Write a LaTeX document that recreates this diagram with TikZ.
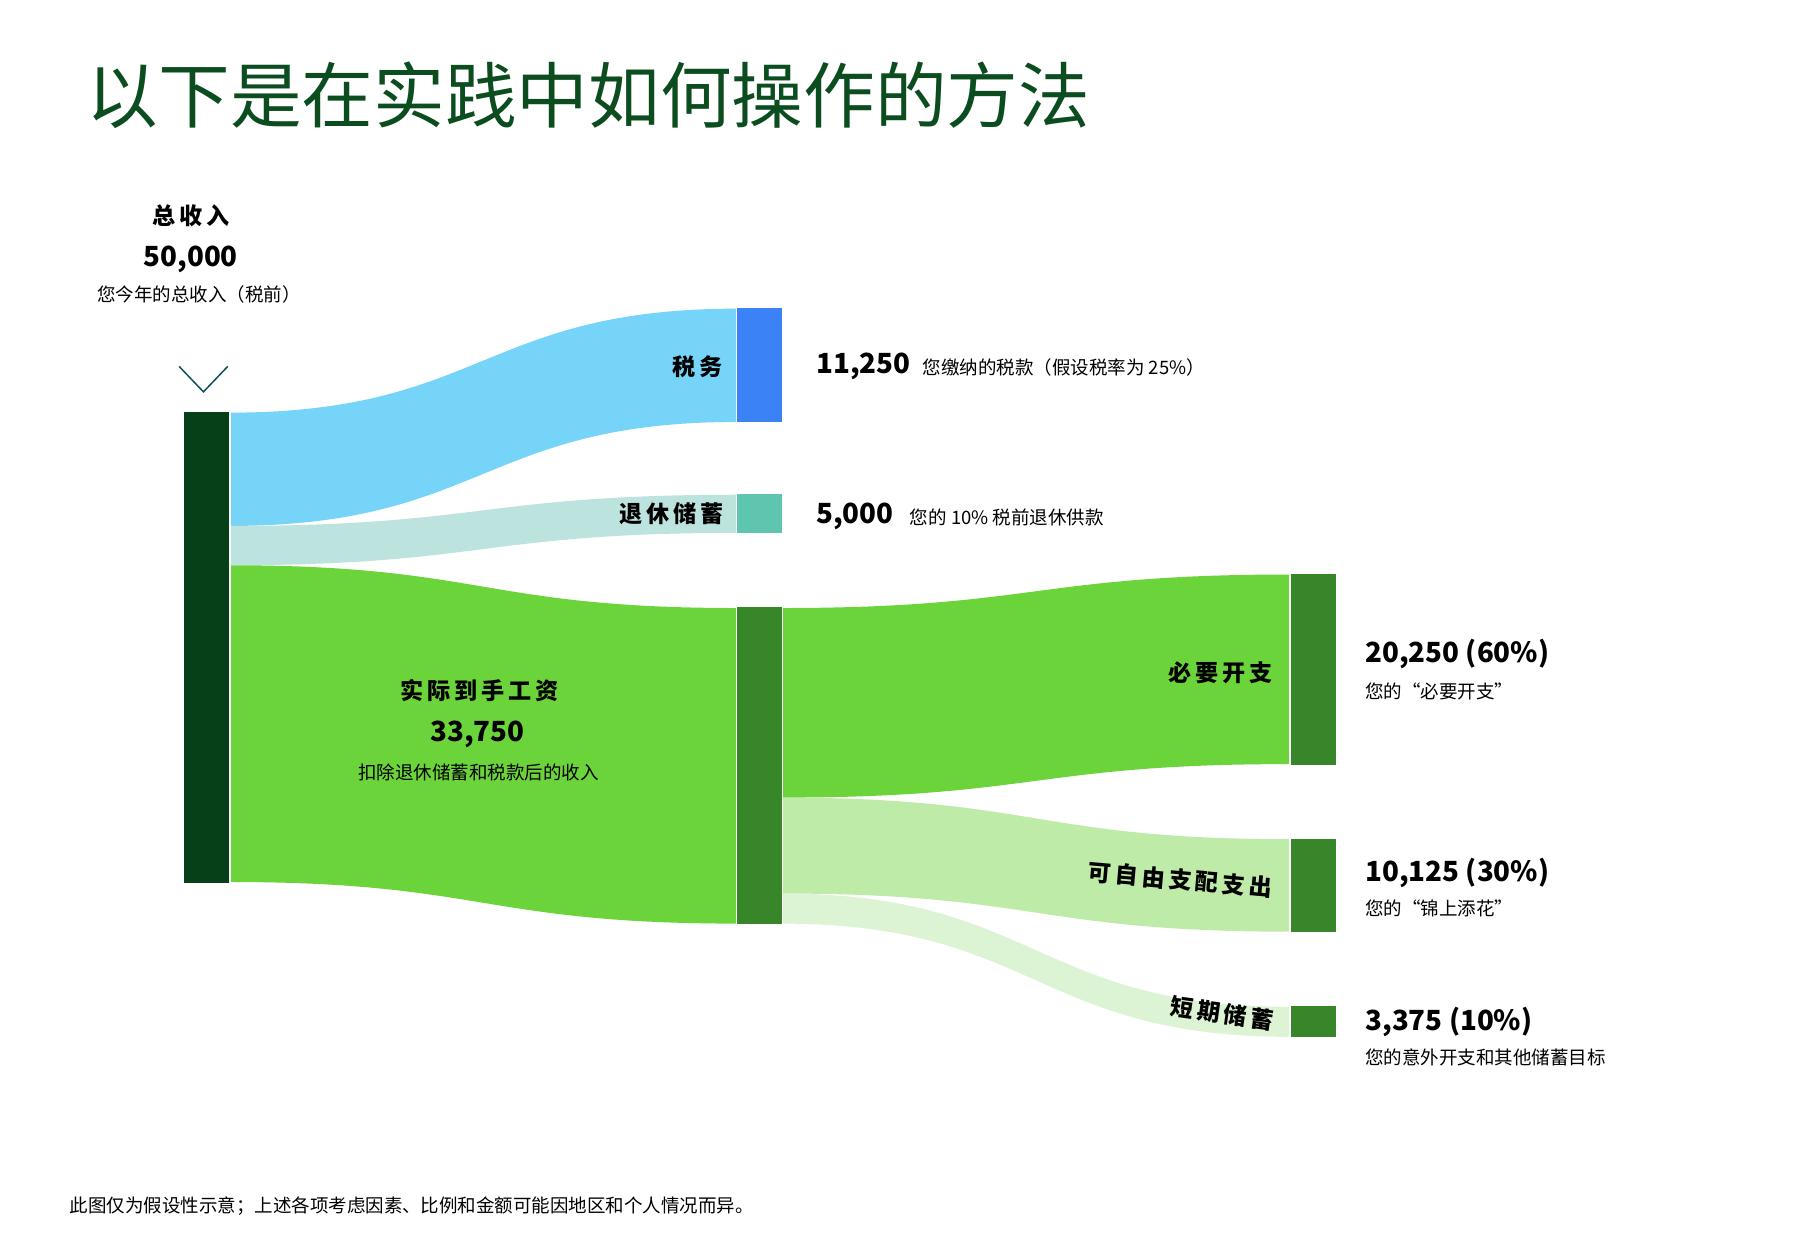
\documentclass[tikz,border=0pt]{standalone}
\usepackage{fontspec}
\setmainfont{Noto Sans CJK SC}
\begin{document}
\begin{tikzpicture}[x=1pt,y=-1pt,
  bar/.style={draw=white,line width=1pt},
  lab/.style={font=\fontsize{20}{24}\selectfont\bfseries,inner sep=0pt},
  num/.style={font=\fontsize{24}{28}\selectfont\bfseries,inner sep=0pt},
  sm/.style={font=\fontsize{16}{19}\selectfont,inner sep=0pt}]
\definecolor{dk}{HTML}{064019}\definecolor{mid}{HTML}{37862A}
\definecolor{lg}{HTML}{6AD43A}\definecolor{tt}{HTML}{0B4D1F}
\useasboundingbox (0,0) rectangle (1552,1068);
\fill[white] (0,0) rectangle (1552,1068);
% flows
\fill[color={rgb,255:red,119;green,212;blue,249}] (198,357) .. controls (418,357) and (418,267) .. (638,267) -- (638,365) .. controls (418,365) and (418,455) .. (198,455) -- cycle;
\fill[color={rgb,255:red,188;green,227;blue,222}] (198,455) .. controls (418,455) and (418,428) .. (638,428) -- (638,461) .. controls (418,461) and (418,489) .. (198,489) -- cycle;
\fill[lg] (198,489) .. controls (418,489) and (418,526) .. (638,526) -- (638,799) .. controls (418,799) and (418,763) .. (198,763) -- cycle;
\fill[lg] (676,526) .. controls (896,526) and (896,497) .. (1117,497) -- (1117,661) .. controls (896,661) and (896,690) .. (676,690) -- cycle;
\fill[color={rgb,255:red,191;green,235;blue,168}] (676,690) .. controls (896,690) and (896,726) .. (1117,726) -- (1117,806) .. controls (896,806) and (896,773) .. (676,773) -- cycle;
\fill[color={rgb,255:red,220;green,244;blue,211}] (676,773) .. controls (896,773) and (896,871) .. (1117,871) -- (1117,897) .. controls (896,897) and (896,799) .. (676,799) -- cycle;
% bars
\node[bar,fill=dk,minimum width=40pt,minimum height=408pt,inner sep=0pt] (src) at (179,560) {};
\node[bar,fill={rgb,255:red,59;green,130;blue,246},minimum width=40pt,minimum height=100pt,inner sep=0pt] (tax) at (657,316) {};
\node[bar,fill={rgb,255:red,94;green,198;blue,174},minimum width=40pt,minimum height=35pt,inner sep=0pt] (ret) at (657,444.5) {};
\node[bar,fill=mid,minimum width=40pt,minimum height=275pt,inner sep=0pt] (net) at (657,662.5) {};
\node[bar,fill=mid,minimum width=40pt,minimum height=166pt,inner sep=0pt] (ess) at (1136,579) {};
\node[bar,fill=mid,minimum width=40pt,minimum height=82pt,inner sep=0pt] (dis) at (1136,766) {};
\node[bar,fill=mid,minimum width=40pt,minimum height=28pt,inner sep=0pt] (sht) at (1136,884) {};
% title
\node[anchor=west,text=tt,inner sep=0pt,font=\fontsize{62}{70}\selectfont] (title) at (75,82) {以下是在实践中如何操作的方法};
% source labels
\node[lab] (l1) at (165,187) {总\,收\,入};
\node[num] (n1) at (165,224) {50,000};
\node[sm] (s1) at (172,255) {您今年的总收入（税前）};
\coordinate (cv) at (176,339);
\draw[color={rgb,255:red,16;green,80;blue,90},line width=1.3pt] (155,317) -- (cv) -- (197,317);
% tax
\node[lab,anchor=east] (l2) at (625,317) {税\,务};
\node[num,anchor=west] (n2) at (706,317) {11,250};
\node[sm,anchor=west] (s2) at (798,318) {您缴纳的税款（假设税率为 25\%）};
\node[lab,anchor=east] (l3) at (626,444) {退\,休\,储\,蓄};
\node[num,anchor=west] (n3) at (706,447) {5,000};
\node[sm,anchor=west] (s3) at (787,448) {您的 10\% 税前退休供款};
% net
\node[lab] (l4) at (415,597) {实\,际\,到\,手\,工\,资};
\node[num] (n4) at (413,635) {33,750};
\node[sm] (s4) at (414,668) {扣除退休储蓄和税款后的收入};
% outputs
\node[lab,anchor=east] (l5) at (1101,582) {必\,要\,开\,支};
\node[num,anchor=west] (n5) at (1181,566) {20,250 (60\%)};
\node[sm,anchor=west] (s5) at (1181,598) {您的“必要开支”};
\node[lab,anchor=east,rotate=-5] (l6) at (1101,768) {可\,自\,由\,支\,配\,支\,出};
\node[num,anchor=west] (n6) at (1181,755) {10,125 (30\%)};
\node[sm,anchor=west] (s6) at (1181,786) {您的“锦上添花”};
\node[lab,anchor=east,rotate=-8] (l7) at (1102,883) {短\,期\,储\,蓄};
\node[num,anchor=west] (n7) at (1181,884) {3,375 (10\%)};
\node[sm,anchor=west] (s7) at (1181,915) {您的意外开支和其他储蓄目标};
\node[sm,anchor=west] (fn) at (60,1043) {此图仅为假设性示意；上述各项考虑因素、比例和金额可能因地区和个人情况而异。};
\end{tikzpicture}
\end{document}
